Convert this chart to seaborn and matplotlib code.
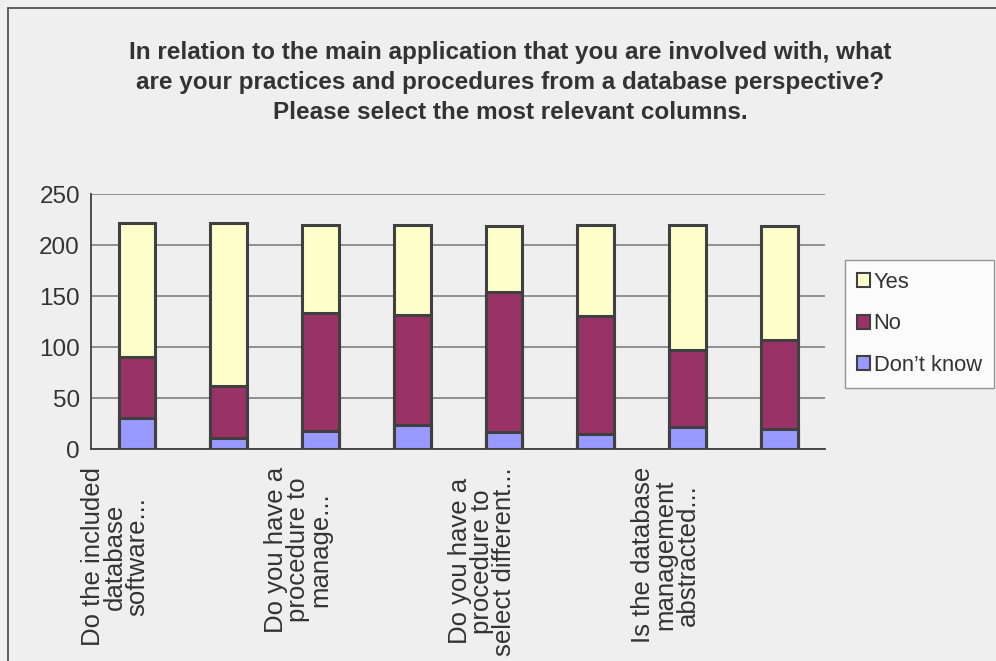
import matplotlib
matplotlib.use("Agg")
import matplotlib.pyplot as plt
import matplotlib.patches as mpatches
import matplotlib.transforms as mtransforms
import numpy as np
import pandas as pd
import seaborn as sns

questions = [
    "Do the included\ndatabase\nsoftware...",
    "",
    "Do you have a\nprocedure to\nmanage...",
    "",
    "Do you have a\nprocedure to\nselect different...",
    "",
    "Is the database\nmanagement\nabstracted...",
    "",
]
yes = [132, 160, 87, 89, 65, 90, 123, 112]
no = [60, 51, 115, 107, 137, 115, 75, 87]
dont_know = [30, 11, 18, 24, 17, 15, 22, 20]

title = ("In relation to the main application that you are involved with, what\n"
         "are your practices and procedures from a database perspective?\n"
         "Please select the most relevant columns.")

sns.set_style("white")
plt.rcParams['font.family'] = ['Liberation Sans', 'DejaVu Sans']

bg = "#EFEFEF"
txt = "#333333"
edge = "#404040"
colors = {"Yes": "#FFFFCC", "No": "#993366", "Don\u2019t know": "#9999FF"}

df = pd.DataFrame({
    "pos": np.arange(len(yes)),
    "Yes": yes,
    "No": no,
    "Don\u2019t know": dont_know,
})
df["dk_top"] = df["Don\u2019t know"]
df["no_top"] = df["dk_top"] + df["No"]
df["yes_top"] = df["no_top"] + df["Yes"]

fig = plt.figure(figsize=(9.96, 6.61), dpi=100, facecolor=bg)
ax = fig.add_axes([0.0914, 0.3207, 0.7370, 0.3858])
ax.set_facecolor(bg)

for col, name in [("yes_top", "Yes"), ("no_top", "No"), ("dk_top", "Don\u2019t know")]:
    sns.barplot(data=df, x="pos", y=col, ax=ax, color=colors[name],
                width=0.4, edgecolor=edge, linewidth=2.2, saturation=1,
                errorbar=None, zorder=3)

ax.set_ylim(0, 250)
ax.set_xlim(-0.5, len(yes) - 0.5)
ax.set_yticks(np.arange(0, 251, 50))
ax.yaxis.grid(True, color="#808080", linewidth=1.2, zorder=0)
ax.set_axisbelow(True)
ax.tick_params(axis="y", labelsize=17.5, labelcolor=txt, length=6, color="#808080", width=1.2, pad=2)

# tick marks between categories, labels at centres
ax.set_xticks(np.arange(-0.5, len(yes), 1.0))
ax.set_xticklabels([])
ax.tick_params(axis="x", which="major", length=4.5, color="#808080", width=1.2, direction="out")
ax.set_xticks(np.arange(len(yes)), minor=True)
ax.set_xticklabels(questions, minor=True, rotation=90, va="top", ha="center",
                   multialignment="center", fontsize=18.5, color=txt, linespacing=0.9)
ax.tick_params(axis="x", which="minor", length=0, pad=13)
offset = mtransforms.ScaledTranslation(-22 / 100, 0, fig.dpi_scale_trans)
for lab in ax.get_xticklabels(minor=True):
    lab.set_transform(lab.get_transform() + offset)

ax.set_xlabel("")
ax.set_ylabel("")
sns.despine(ax=ax, top=True, right=True)
for side in ["left", "bottom"]:
    ax.spines[side].set_color(edge)
    ax.spines[side].set_linewidth(1.3)

handles = [mpatches.Patch(facecolor=colors[k], edgecolor=edge, linewidth=1.5, label=k)
           for k in ["Yes", "No", "Don\u2019t know"]]
leg = fig.legend(handles=handles, loc="upper left", bbox_to_anchor=(845 / 996, 1 - 260 / 661),
                 fontsize=15.8, frameon=True, fancybox=False, handlelength=0.6, handleheight=0.6,
                 handletextpad=0.15, labelspacing=0.93, borderpad=0.55, borderaxespad=0)
leg.get_frame().set_edgecolor("#808080")
leg.get_frame().set_facecolor("white")
leg.get_frame().set_linewidth(1.0)
for t in leg.get_texts():
    t.set_color(txt)

fig.text(0.512, 1 - 41 / 661, title, ha="center", va="top", fontsize=17.5,
         fontweight="bold", color=txt, linespacing=1.38)

border = mpatches.Rectangle((8 / 996, -0.1), 1.2, 1.1 - 8 / 661, transform=fig.transFigure,
                            fill=False, edgecolor="#555555", linewidth=1.3)
fig.patches.append(border)

fig.savefig("out.png", dpi=100, facecolor=bg)
